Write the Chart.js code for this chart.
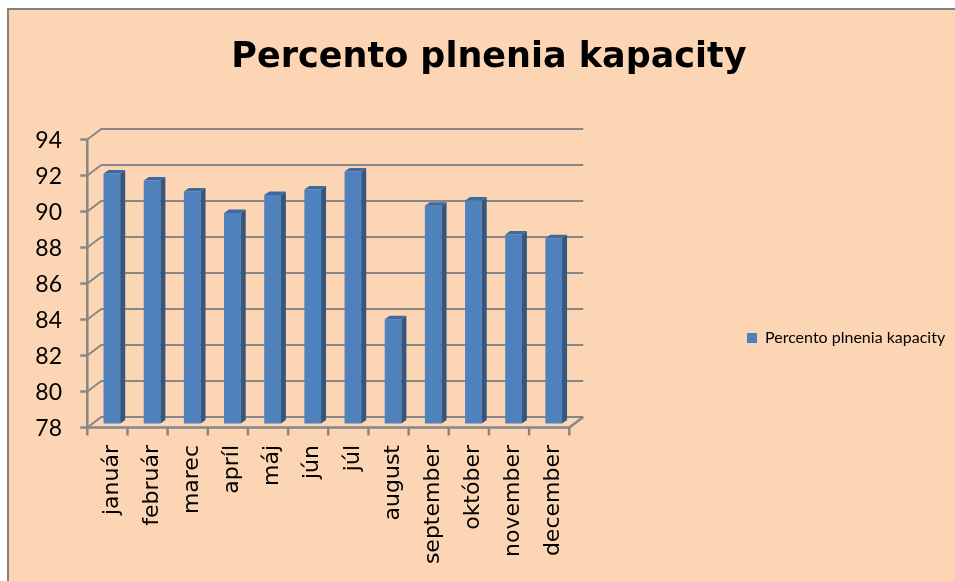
<!DOCTYPE html>
<html>
<head>
<meta charset="utf-8">
<script src="https://cdn.jsdelivr.net/npm/chart.js@4.4.1/dist/chart.umd.min.js"></script>
<style>
  html, body { margin: 0; background: #fff; overflow: hidden; }
  #wrap { position: absolute; left: 7px; top: 8px; width: 946px; height: 571px; overflow: hidden;
    background: #fcd5b5; border-left: 2px solid #828282; border-top: 2px solid #828282; }
  canvas { display: block; }
</style>
</head>
<body>
<div id="wrap"><canvas id="chart" width="946" height="571"></canvas></div>
<script>
const months = ['január', 'február', 'marec', 'apríl', 'máj', 'jún', 'júl', 'august', 'september', 'október', 'november', 'december'];
const capacity = [91.9, 91.5, 90.9, 89.7, 90.7, 91.0, 92.0, 83.8, 90.1, 90.4, 88.5, 88.3];
const seriesName = 'Percento plnenia kapacity';
const yMin = 78;
const yMax = 94;
const yStep = 2;

// fake 3d: bar plane is the scale, walls are shifted from it
const FRONT = { dx: -4.5, dy: 3.9 };
const BACK = { dx: 9.5, dy: -6.7 };
const DEPTH = { dx: 5, dy: -3.5 };
const GRID = '#878787';

// plot area wanted on the canvas (bar plane)
const AREA = { left: 82.8, right: 564.8, top: 125.6, bottom: 413.6 };
const W = 946, H = 571;

// legend sizing, measured so the box lands where the reference has it
const LEG_FONT = { family: 'Lato', size: 16 };
const LEG_BOX = 10;
const LEG_PAD = 77.6;
const LEG_X = 738;
const mctx = document.createElement('canvas').getContext('2d');
mctx.font = LEG_FONT.size + 'px ' + LEG_FONT.family;
const itemW = LEG_BOX + LEG_FONT.size / 2 + mctx.measureText(seriesName).width;
const padR = W - LEG_X - itemW - 10;
const legendW = LEG_PAD + itemW + 10;
const gapW = W - padR - legendW - AREA.right;
const padL = 14 + padR; // keeps the title centred like the reference

const wallsPlugin = {
  id: 'walls',
  beforeDatasetsDraw(chart) {
    const { ctx, chartArea: a, scales: { y } } = chart;
    ctx.save();
    ctx.strokeStyle = GRID;
    ctx.lineWidth = 2;
    y.ticks.forEach(t => {
      const py = y.getPixelForValue(t.value);
      ctx.beginPath();
      ctx.moveTo(a.left + FRONT.dx, py + FRONT.dy);
      ctx.lineTo(a.left + BACK.dx, py + BACK.dy);
      ctx.lineTo(a.right + BACK.dx, py + BACK.dy);
      ctx.stroke();
    });
    ctx.restore();
  },
  afterDatasetsDraw(chart) {
    const { ctx, chartArea: a, scales: { x, y } } = chart;
    ctx.save();
    chart.getDatasetMeta(0).data.forEach(bar => {
      const p = bar.getProps(['x', 'y', 'base', 'width'], true);
      const base = Math.min(p.base, a.bottom);
      const l = p.x - p.width / 2, r = p.x + p.width / 2;
      ctx.fillStyle = '#34567f';
      ctx.beginPath();
      ctx.moveTo(r, p.y);
      ctx.lineTo(r + DEPTH.dx, p.y + DEPTH.dy);
      ctx.lineTo(r + DEPTH.dx, base + DEPTH.dy);
      ctx.lineTo(r, base);
      ctx.fill();
      ctx.fillStyle = '#3d68a0';
      ctx.beginPath();
      ctx.moveTo(l, p.y);
      ctx.lineTo(l + DEPTH.dx, p.y + DEPTH.dy);
      ctx.lineTo(r + DEPTH.dx, p.y + DEPTH.dy);
      ctx.lineTo(r, p.y);
      ctx.fill();
    });

    ctx.strokeStyle = GRID;
    ctx.lineWidth = 2.5;
    const fx = a.left + FRONT.dx;
    ctx.beginPath();
    ctx.moveTo(fx, a.top + FRONT.dy);
    ctx.lineTo(fx, a.bottom + FRONT.dy);
    ctx.lineTo(a.right + FRONT.dx, a.bottom + FRONT.dy);
    ctx.lineTo(a.right + BACK.dx, a.bottom + BACK.dy);
    ctx.stroke();

    y.ticks.forEach(t => {
      const py = y.getPixelForValue(t.value) + FRONT.dy;
      ctx.beginPath();
      ctx.moveTo(fx - 7, py);
      ctx.lineTo(fx, py);
      ctx.stroke();
    });
    for (let i = 0; i <= months.length; i++) {
      const bx = x.left + i * x.width / months.length + FRONT.dx;
      ctx.beginPath();
      ctx.moveTo(bx, a.bottom + FRONT.dy);
      ctx.lineTo(bx, a.bottom + FRONT.dy + 8);
      ctx.stroke();
    }
    ctx.restore();
  }
};

Chart.defaults.font.family = 'Lato';
Chart.defaults.color = '#000';

new Chart(document.getElementById('chart'), {
  type: 'bar',
  data: {
    labels: months,
    datasets: [{
      label: seriesName,
      data: capacity,
      backgroundColor: '#4f81bd',
      borderWidth: 0,
      barPercentage: 0.415,
      categoryPercentage: 1.0
    }]
  },
  options: {
    responsive: false,
    animation: false,
    layout: { padding: { left: padL, right: padR, top: 0, bottom: 0 } },
    plugins: {
      title: {
        display: true,
        text: seriesName,
        color: '#000',
        font: { family: '"DejaVu Sans"', size: 35, weight: 'bold' },
        padding: { top: 27, bottom: 56.6 }
      },
      legend: {
        position: 'right',
        align: 'end',
        fullSize: false,
        maxWidth: 600,
        labels: { boxWidth: LEG_BOX, boxHeight: LEG_BOX, padding: LEG_PAD, color: '#000', font: LEG_FONT }
      },
      tooltip: { enabled: false }
    },
    scales: {
      x: {
        grid: { display: false, drawTicks: false },
        border: { display: false },
        ticks: { minRotation: 90, maxRotation: 90, autoSkip: false, padding: 21.4,
          font: { family: '"DejaVu Sans"', size: 22 } },
        afterFit(s) { s.height = H - AREA.bottom; }
      },
      y: {
        min: yMin,
        max: yMax,
        grid: { display: false, drawTicks: false },
        border: { display: false },
        ticks: { stepSize: yStep, padding: 29.8, labelOffset: 5, font: { size: 23 } },
        afterFit(s) { s.width = AREA.left - padL; }
      },
      gap: {
        type: 'linear',
        position: 'right',
        grid: { display: false, drawTicks: false },
        border: { display: false },
        ticks: { display: false },
        afterFit(s) { s.width = gapW; }
      }
    }
  },
  plugins: [wallsPlugin]
});
</script>
</body>
</html>
